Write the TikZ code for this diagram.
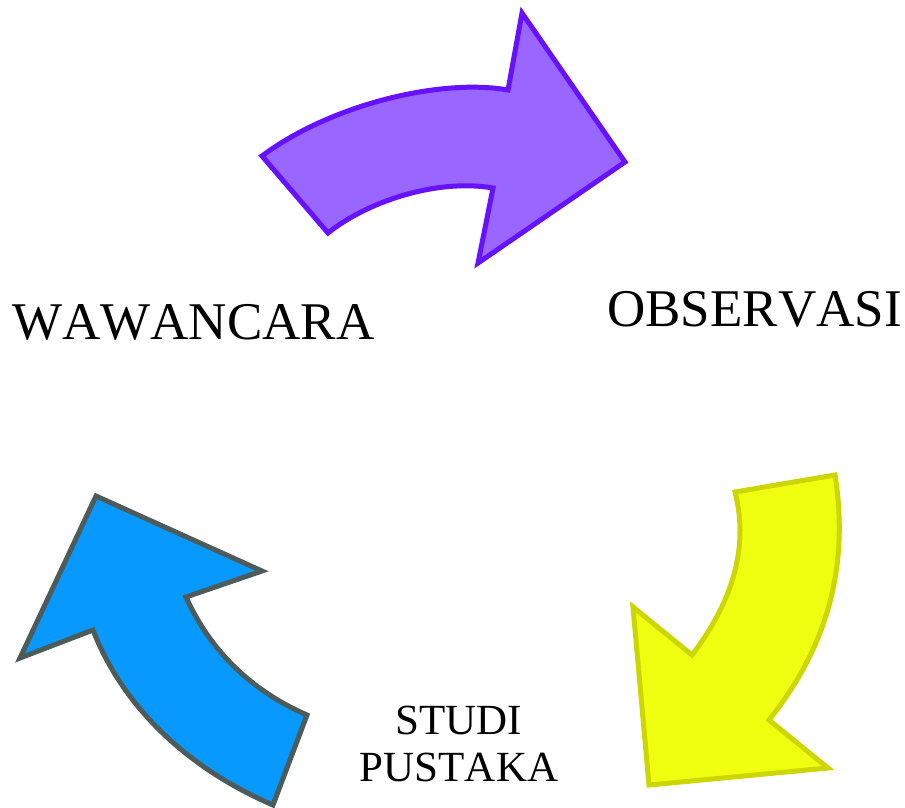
\documentclass[tikz,border=0pt]{standalone}
\usepackage{fontspec}
\setmainfont{Liberation Serif}[Kerning=Off]
\definecolor{pfill}{HTML}{9966FF}
\definecolor{pline}{HTML}{6611FF}
\definecolor{yfill}{HTML}{F0FF10}
\definecolor{yline}{HTML}{CCD600}
\definecolor{bfill}{HTML}{0899FF}
\definecolor{bline}{HTML}{4D5B5B}
\tikzset{
  bigarrow/.style={line width=5pt, line join=miter},
  label/.style={inner sep=0pt, font=\fontsize{53}{60}\selectfont},
  smalllabel/.style={inner sep=0pt, font=\fontsize{43}{47}\selectfont}
}
\begin{document}
\begin{tikzpicture}[x=1pt,y=-1pt]
\useasboundingbox (0,0) rectangle (905,807);
% purple arrow
\draw[bigarrow, draw=pline, fill=pfill]
  (262,156) -- (328,233) .. controls (365,203) and (435,178) .. (493,188)
  -- (478,263) -- (625,162) -- (522,13) -- (508,90)
  .. controls (440,78) and (330,105) .. (262,156) -- cycle;
% yellow arrow
\draw[bigarrow, draw=yline, fill=yfill]
  (735,492) -- (835,475) .. controls (850,570) and (825,650) .. (769,720)
  -- (828,768) -- (649,785) -- (633,607) -- (692,655)
  .. controls (730,605) and (750,550) .. (735,492) -- cycle;
% blue arrow
\draw[bigarrow, draw=bline, fill=bfill]
  (96,496) -- (262,571) -- (186,597) .. controls (210,650) and (250,690) .. (307,715)
  -- (273,805) .. controls (180,765) and (120,700) .. (93,630)
  -- (20,658) -- cycle;
\node[label, anchor=base west] (waw) at (12,339) {WAWANCARA};
\node[label, anchor=base west] (obs) at (607,326) {OBSERVASI};
\node[smalllabel, anchor=base] (studi) at (459,734) {STUDI};
\node[smalllabel, anchor=base] (pustaka) at (459,781) {PUSTAKA};
\end{tikzpicture}
\end{document}
